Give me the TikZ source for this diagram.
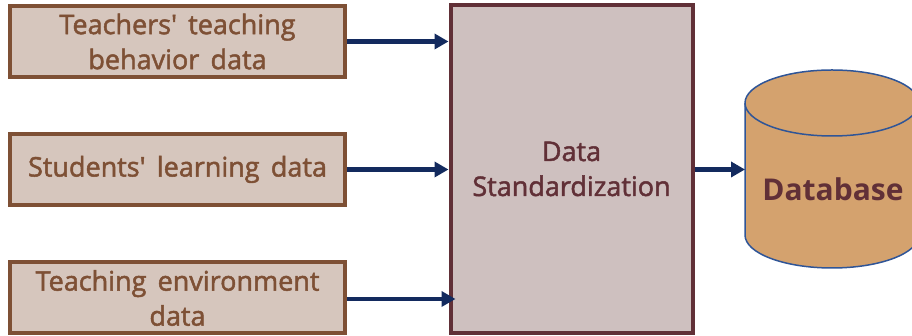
\documentclass[tikz,border=0pt]{standalone}
\usepackage{fontspec}
\newfontfamily\labfont{Open Sans}[FakeBold=1.8, WordSpace=1.6]
\newfontfamily\dbfont{Open Sans Bold}
\usetikzlibrary{arrows.meta}
\definecolor{lbfill}{HTML}{D6C6BD}
\definecolor{lbdraw}{HTML}{7E5035}
\definecolor{mbfill}{HTML}{CEC0BF}
\definecolor{mbdraw}{HTML}{613037}
\definecolor{navy}{HTML}{132A5E}
\definecolor{dbfill}{HTML}{D4A26E}
\definecolor{dbdraw}{HTML}{2F5597}
\tikzset{
  srcbox/.style={draw=lbdraw, fill=lbfill, line width=4pt, minimum width=335pt, minimum height=71pt, inner sep=0pt, align=center, text=lbdraw, font=\labfont\fontsize{27}{35}\selectfont},
  mainbox/.style={draw=mbdraw, fill=mbfill, line width=4pt, minimum width=242pt, minimum height=328pt, inner sep=0pt, align=center, text=mbdraw, font=\labfont\fontsize{27}{35}\selectfont},
  dbtext/.style={text=mbdraw, font=\dbfont\fontsize{30}{36}\selectfont, inner sep=0pt},
  flow/.style={-{Triangle[length=14pt,width=15pt]}, draw=navy, line width=4.5pt}
}
\begin{document}
\begin{tikzpicture}[x=1pt,y=1pt]
\useasboundingbox (0,0) rectangle (912,336);
\node[srcbox] (t) at (177.5,294.5) {Teachers' teaching\\behavior data};
\node[srcbox] (s) at (177.5,166.5) {Students' learning data};
\node[srcbox] (e) at (177.5,38) {Teaching environment\\data};
\node[mainbox] (m) at (571.5,167) {Data\\Standardization};
% database cylinder
\filldraw[draw=dbdraw, fill=dbfill, line width=1.5pt]
  (745,233) -- (745,101) arc[start angle=180, end angle=360, x radius=87, y radius=33]
  -- (919,233) arc[start angle=0, end angle=180, x radius=87, y radius=33] -- cycle;
\draw[draw=dbdraw, line width=1.5pt] (745,233) arc[start angle=180, end angle=360, x radius=87, y radius=33];
\coordinate (dwest) at (745,168);
\node[dbtext] (d) at (833,147) {Database};
\draw[flow] (t.east) -- (m.west |- t.east);
\draw[flow] (s.east) -- (m.west |- s.east);
\coordinate (eend) at ([xshift=7pt]m.west |- e.east);
\draw[flow] ([yshift=-1pt]e.east) -- ([yshift=-1pt]eend);
\draw[flow] (m.east |- s.east) -- (dwest |- s.east);
\end{tikzpicture}
\end{document}
